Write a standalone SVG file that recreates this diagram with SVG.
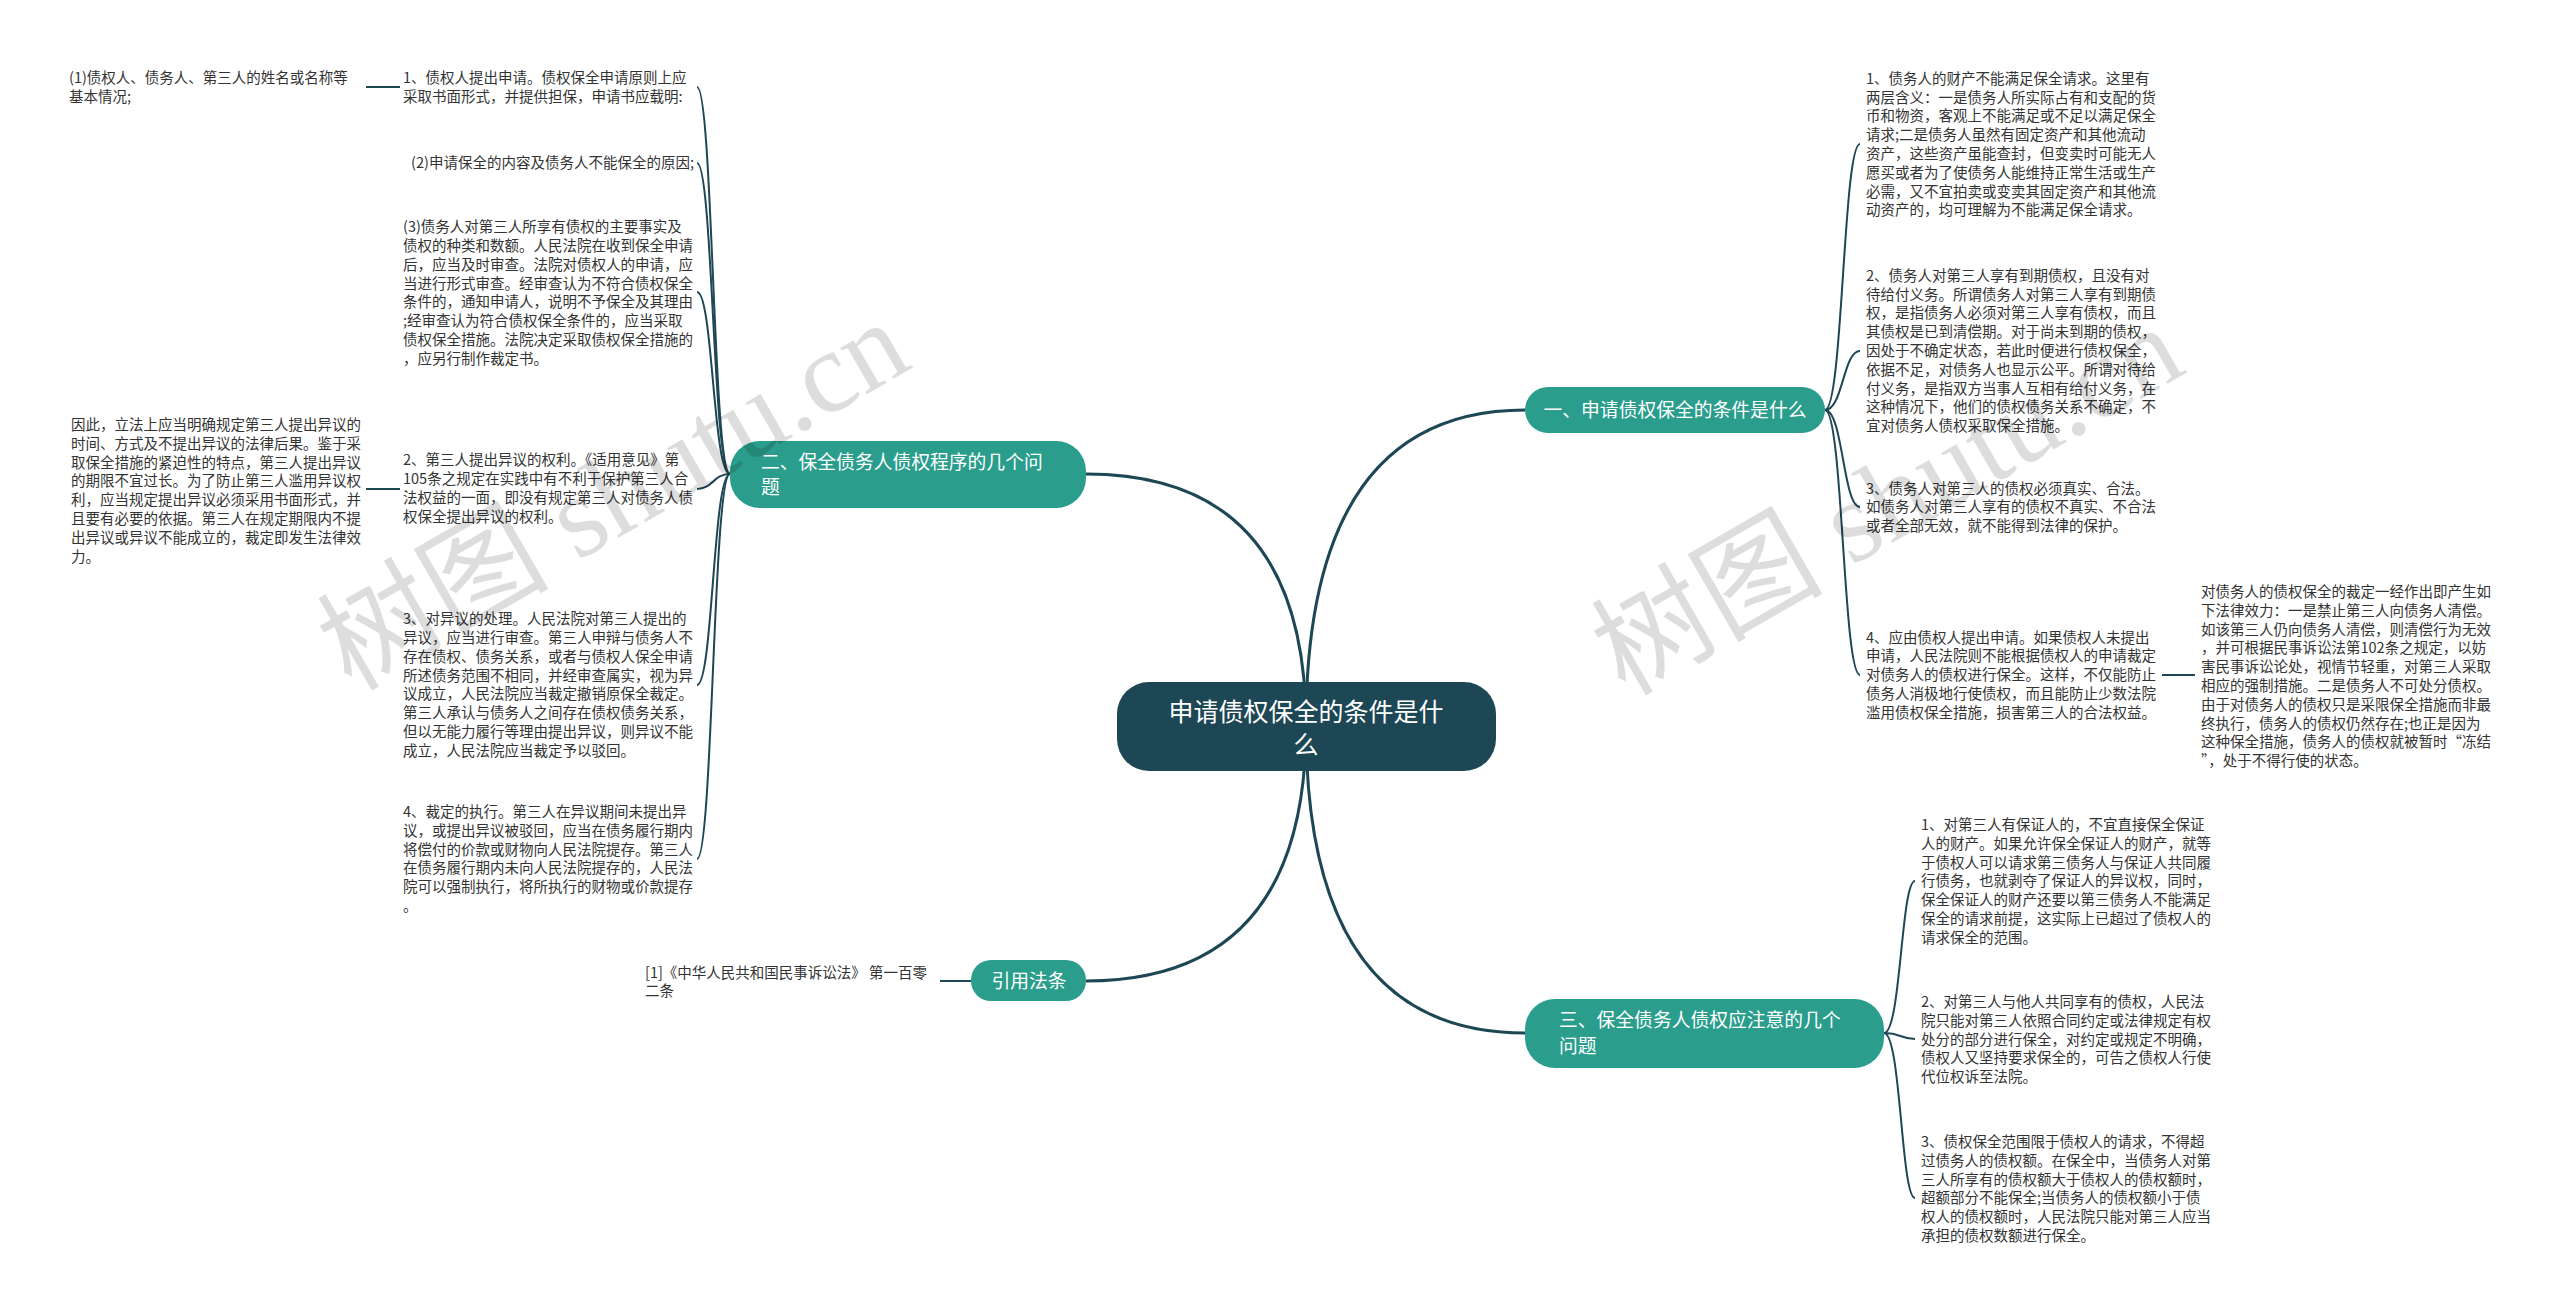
<svg xmlns="http://www.w3.org/2000/svg" width="2560" height="1313" viewBox="0 0 2560 1313">
<style>
.leaf{font-family:"Noto Sans CJK SC","Noto Sans",sans-serif;font-size:14.5px;fill:#333333}
.br{font-family:"Noto Sans CJK SC","Noto Sans",sans-serif;font-size:18.8px;fill:#ffffff}
.ct{font-family:"Noto Sans CJK SC","Noto Sans",sans-serif;font-size:25px;fill:#ffffff}
.wm{font-family:"Liberation Serif","Noto Sans CJK SC",serif;font-size:116px;fill:#000000;opacity:0.13}
.ln{fill:none;stroke:#1e4755;stroke-width:2}
.lnm{fill:none;stroke:#1e4755;stroke-width:3}
.bnode{fill:#2a9d8c}
</style>
<rect width="2560" height="1313" fill="#ffffff"/>
<g id="connectors">
<path class="lnm" d="M1306,726 Q1306,474 1086,474"/>
<path class="lnm" d="M1306,726 Q1306,410 1525,410"/>
<path class="lnm" d="M1306,726 Q1306,981 1086,981"/>
<path class="lnm" d="M1306,726 Q1306,1033 1525,1033"/>
<path class="ln" d="M730,474 C713,474 713,87 697,87"/>
<path class="ln" d="M730,474 C713,474 713,163 697,163"/>
<path class="ln" d="M730,474 C713,474 713,292 697,292"/>
<path class="ln" d="M730,474 C713,474 713,489 697,489"/>
<path class="ln" d="M730,474 C713,474 713,685 697,685"/>
<path class="ln" d="M730,474 C713,474 713,859 697,859"/>
<path class="ln" d="M400,87 L366,87"/>
<path class="ln" d="M400,489 L366,489"/>
<path class="ln" d="M971,981 L940,981"/>
<path class="ln" d="M1825,410 C1843,410 1843,144 1860,144"/>
<path class="ln" d="M1825,410 C1843,410 1843,351 1860,351"/>
<path class="ln" d="M1825,410 C1843,410 1843,507 1860,507"/>
<path class="ln" d="M1825,410 C1843,410 1843,675 1860,675"/>
<path class="ln" d="M2162,675 L2195,675"/>
<path class="ln" d="M1884,1033 C1901,1033 1901,881 1915,881"/>
<path class="ln" d="M1884,1033 C1901,1033 1901,1039 1915,1039"/>
<path class="ln" d="M1884,1033 C1901,1033 1901,1198 1915,1198"/>
</g>
<g id="center">
<rect x="1117" y="682" width="379" height="89" rx="32" fill="#1e4755"/>
<text class="ct" text-anchor="middle"><tspan x="1306" y="721">申请债权保全的条件是什</tspan><tspan x="1306" y="754">么</tspan></text>
</g>
<g id="b1">
<rect class="bnode" x="1525" y="387" width="300" height="46" rx="23"/>
<text class="br" x="1675" y="417" text-anchor="middle">一、申请债权保全的条件是什么</text>
</g>
<g id="b2">
<rect class="bnode" x="730" y="441" width="356" height="67" rx="30"/>
<text class="br"><tspan x="761" y="469">二、保全债务人债权程序的几个问</tspan><tspan x="761" y="494">题</tspan></text>
</g>
<g id="b3">
<rect class="bnode" x="971" y="960" width="115" height="41" rx="20"/>
<text class="br" x="1029" y="988" text-anchor="middle">引用法条</text>
</g>
<g id="b4">
<rect class="bnode" x="1525" y="999" width="359" height="69" rx="30"/>
<text class="br"><tspan x="1559" y="1027">三、保全债务人债权应注意的几个</tspan><tspan x="1559" y="1053">问题</tspan></text>
</g>
<g id="l1-1">
<text class="leaf"><tspan x="403" y="83">1、债权人提出申请。债权保全申请原则上应</tspan><tspan x="403" y="102">采取书面形式，并提供担保，申请书应载明:</tspan></text>
</g>
<g id="l1-1-1">
<text class="leaf"><tspan x="69" y="83">(1)债权人、债务人、第三人的姓名或名称等</tspan><tspan x="69" y="102">基本情况;</tspan></text>
</g>
<g id="l1-2">
<text class="leaf" x="694" y="168" text-anchor="end">(2)申请保全的内容及债务人不能保全的原因;</text>
</g>
<g id="l1-3">
<text class="leaf"><tspan x="403" y="232">(3)债务人对第三人所享有债权的主要事实及</tspan><tspan x="403" y="251">债权的种类和数额。人民法院在收到保全申请</tspan><tspan x="403" y="270">后，应当及时审查。法院对债权人的申请，应</tspan><tspan x="403" y="289">当进行形式审查。经审查认为不符合债权保全</tspan><tspan x="403" y="307">条件的，通知申请人，说明不予保全及其理由</tspan><tspan x="403" y="326">;经审查认为符合债权保全条件的，应当采取</tspan><tspan x="403" y="345">债权保全措施。法院决定采取债权保全措施的</tspan><tspan x="403" y="364">，应另行制作裁定书。</tspan></text>
</g>
<g id="l1-4">
<text class="leaf"><tspan x="403" y="465">2、第三人提出异议的权利。《适用意见》第</tspan><tspan x="403" y="484">105条之规定在实践中有不利于保护第三人合</tspan><tspan x="403" y="503">法权益的一面，即没有规定第三人对债务人债</tspan><tspan x="403" y="522">权保全提出异议的权利。</tspan></text>
</g>
<g id="l1-4-1">
<text class="leaf"><tspan x="71" y="430">因此，立法上应当明确规定第三人提出异议的</tspan><tspan x="71" y="449">时间、方式及不提出异议的法律后果。鉴于采</tspan><tspan x="71" y="468">取保全措施的紧迫性的特点，第三人提出异议</tspan><tspan x="71" y="486">的期限不宜过长。为了防止第三人滥用异议权</tspan><tspan x="71" y="505">利，应当规定提出异议必须采用书面形式，并</tspan><tspan x="71" y="524">且要有必要的依据。第三人在规定期限内不提</tspan><tspan x="71" y="543">出异议或异议不能成立的，裁定即发生法律效</tspan><tspan x="71" y="562">力。</tspan></text>
</g>
<g id="l1-5">
<text class="leaf"><tspan x="403" y="624">3、对异议的处理。人民法院对第三人提出的</tspan><tspan x="403" y="643">异议，应当进行审查。第三人申辩与债务人不</tspan><tspan x="403" y="662">存在债权、债务关系，或者与债权人保全申请</tspan><tspan x="403" y="681">所述债务范围不相同，并经审查属实，视为异</tspan><tspan x="403" y="699">议成立，人民法院应当裁定撤销原保全裁定。</tspan><tspan x="403" y="718">第三人承认与债务人之间存在债权债务关系，</tspan><tspan x="403" y="737">但以无能力履行等理由提出异议，则异议不能</tspan><tspan x="403" y="756">成立，人民法院应当裁定予以驳回。</tspan></text>
</g>
<g id="l1-6">
<text class="leaf"><tspan x="403" y="817">4、裁定的执行。第三人在异议期间未提出异</tspan><tspan x="403" y="836">议，或提出异议被驳回，应当在债务履行期内</tspan><tspan x="403" y="855">将偿付的价款或财物向人民法院提存。第三人</tspan><tspan x="403" y="873">在债务履行期内未向人民法院提存的，人民法</tspan><tspan x="403" y="892">院可以强制执行，将所执行的财物或价款提存</tspan><tspan x="403" y="911">。</tspan></text>
</g>
<g id="l3-1">
<text class="leaf"><tspan x="645" y="978">[1]《中华人民共和国民事诉讼法》 第一百零</tspan><tspan x="645" y="996">二条</tspan></text>
</g>
<g id="r1-1">
<text class="leaf"><tspan x="1866" y="84">1、债务人的财产不能满足保全请求。这里有</tspan><tspan x="1866" y="103">两层含义：一是债务人所实际占有和支配的货</tspan><tspan x="1866" y="121">币和物资，客观上不能满足或不足以满足保全</tspan><tspan x="1866" y="140">请求;二是债务人虽然有固定资产和其他流动</tspan><tspan x="1866" y="159">资产，这些资产虽能查封，但变卖时可能无人</tspan><tspan x="1866" y="178">愿买或者为了使债务人能维持正常生活或生产</tspan><tspan x="1866" y="197">必需，又不宜拍卖或变卖其固定资产和其他流</tspan><tspan x="1866" y="215">动资产的，均可理解为不能满足保全请求。</tspan></text>
</g>
<g id="r1-2">
<text class="leaf"><tspan x="1866" y="281">2、债务人对第三人享有到期债权，且没有对</tspan><tspan x="1866" y="300">待给付义务。所谓债务人对第三人享有到期债</tspan><tspan x="1866" y="318">权，是指债务人必须对第三人享有债权，而且</tspan><tspan x="1866" y="337">其债权是已到清偿期。对于尚未到期的债权，</tspan><tspan x="1866" y="356">因处于不确定状态，若此时便进行债权保全，</tspan><tspan x="1866" y="375">依据不足，对债务人也显示公平。所谓对待给</tspan><tspan x="1866" y="394">付义务，是指双方当事人互相有给付义务，在</tspan><tspan x="1866" y="412">这种情况下，他们的债权债务关系不确定，不</tspan><tspan x="1866" y="431">宜对债务人债权采取保全措施。</tspan></text>
</g>
<g id="r1-3">
<text class="leaf"><tspan x="1866" y="494">3、债务人对第三人的债权必须真实、合法。</tspan><tspan x="1866" y="512">如债务人对第三人享有的债权不真实、不合法</tspan><tspan x="1866" y="531">或者全部无效，就不能得到法律的保护。</tspan></text>
</g>
<g id="r1-4">
<text class="leaf"><tspan x="1866" y="643">4、应由债权人提出申请。如果债权人未提出</tspan><tspan x="1866" y="661">申请，人民法院则不能根据债权人的申请裁定</tspan><tspan x="1866" y="680">对债务人的债权进行保全。这样，不仅能防止</tspan><tspan x="1866" y="699">债务人消极地行使债权，而且能防止少数法院</tspan><tspan x="1866" y="718">滥用债权保全措施，损害第三人的合法权益。</tspan></text>
</g>
<g id="r1-4-1">
<text class="leaf"><tspan x="2201" y="597">对债务人的债权保全的裁定一经作出即产生如</tspan><tspan x="2201" y="616">下法律效力：一是禁止第三人向债务人清偿。</tspan><tspan x="2201" y="635">如该第三人仍向债务人清偿，则清偿行为无效</tspan><tspan x="2201" y="653">，并可根据民事诉讼法第102条之规定，以妨</tspan><tspan x="2201" y="672">害民事诉讼论处，视情节轻重，对第三人采取</tspan><tspan x="2201" y="691">相应的强制措施。二是债务人不可处分债权。</tspan><tspan x="2201" y="710">由于对债务人的债权只是采限保全措施而非最</tspan><tspan x="2201" y="729">终执行，债务人的债权仍然存在;也正是因为</tspan><tspan x="2201" y="747">这种保全措施，债务人的债权就被暂时“冻结</tspan><tspan x="2201" y="766">”，处于不得行使的状态。</tspan></text>
</g>
<g id="r4-1">
<text class="leaf"><tspan x="1921" y="830">1、对第三人有保证人的，不宜直接保全保证</tspan><tspan x="1921" y="849">人的财产。如果允许保全保证人的财产，就等</tspan><tspan x="1921" y="868">于债权人可以请求第三债务人与保证人共同履</tspan><tspan x="1921" y="886">行债务，也就剥夺了保证人的异议权，同时，</tspan><tspan x="1921" y="905">保全保证人的财产还要以第三债务人不能满足</tspan><tspan x="1921" y="924">保全的请求前提，这实际上已超过了债权人的</tspan><tspan x="1921" y="943">请求保全的范围。</tspan></text>
</g>
<g id="r4-2">
<text class="leaf"><tspan x="1921" y="1007">2、对第三人与他人共同享有的债权，人民法</tspan><tspan x="1921" y="1026">院只能对第三人依照合同约定或法律规定有权</tspan><tspan x="1921" y="1045">处分的部分进行保全，对约定或规定不明确，</tspan><tspan x="1921" y="1063">债权人又坚持要求保全的，可告之债权人行使</tspan><tspan x="1921" y="1082">代位权诉至法院。</tspan></text>
</g>
<g id="r4-3">
<text class="leaf"><tspan x="1921" y="1147">3、债权保全范围限于债权人的请求，不得超</tspan><tspan x="1921" y="1166">过债务人的债权额。在保全中，当债务人对第</tspan><tspan x="1921" y="1185">三人所享有的债权额大于债权人的债权额时，</tspan><tspan x="1921" y="1203">超额部分不能保全;当债务人的债权额小于债</tspan><tspan x="1921" y="1222">权人的债权额时，人民法院只能对第三人应当</tspan><tspan x="1921" y="1241">承担的债权数额进行保全。</tspan></text>
</g>
<g id="watermarks">
<text class="wm" transform="translate(351,692) rotate(-30)">树图 shutu.cn</text>
<text class="wm" transform="translate(1625,697) rotate(-30)">树图 shutu.cn</text>
</g>
</svg>
